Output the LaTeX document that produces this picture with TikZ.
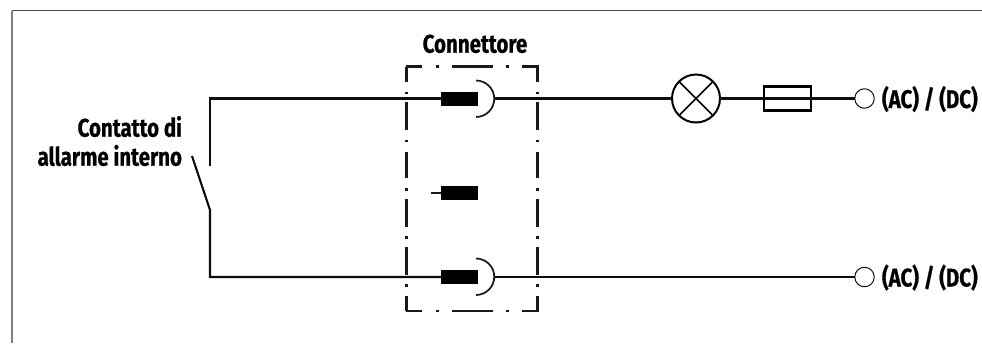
\documentclass[tikz,border=0pt]{standalone}
\usepackage{fontspec}
\newfontfamily\lab[FakeStretch=0.8,BoldFeatures={FakeStretch=0.8,FakeBold=0.6}]{Fira Sans}
\tikzset{
  wire/.style={line width=1.6pt,black!95},
  thinwire/.style={line width=1.3pt,black!90},
  bound/.style={line width=1.6pt,black!90},
  block/.style={fill=black,draw=none,minimum width=27.75pt,minimum height=10.5pt,inner sep=0pt,outer sep=0pt},
  lampn/.style={circle,draw,line width=1.5pt,minimum size=36pt,inner sep=0pt,outer sep=0pt},
  fusen/.style={rectangle,draw,line width=1.6pt,minimum width=35pt,minimum height=18pt,inner sep=0pt,outer sep=0pt},
  termn/.style={circle,draw,line width=.7pt,minimum size=14.6pt,inner sep=0pt,outer sep=0pt},
  txt/.style={font=\lab\bfseries\fontsize{19.2pt}{23pt}\selectfont,inner sep=0pt,outer sep=0pt,text=black}
}
\begin{document}
\begin{tikzpicture}[x=0.75pt,y=-0.75pt]
\useasboundingbox (0,0) rectangle (982,343);
% frame
\draw[line width=1.2pt,black!50] (12,343) -- (12,10.5);
\draw[line width=.8pt,black!70] (12,10.5) -- (982,10.5);
% nodes
\node[block] (b1) at (459.5,99) {};
\node[block] (b2) at (459.5,193) {};
\node[block] (b3) at (459.5,277) {};
\node[lampn] (lamp) at (696,98.5) {};
\node[fusen] (fuse) at (787.5,98.5) {};
\node[termn] (t1) at (864.5,98.5) {};
\node[termn] (t2) at (864.5,277) {};
\coordinate (tl) at (210,98.5);
\coordinate (swa) at (210,166);
\coordinate (swb) at (210,210);
\coordinate (swc) at (192,156);
\coordinate (bl) at (210,277);
\coordinate (a1) at (476,80.5);
\coordinate (a2) at (476,117);
\coordinate (a3) at (476,258.5);
\coordinate (a4) at (476,295);
\coordinate (stub) at (431,193);
% wires
\draw[wire,line join=miter] (swa) -- (tl) -- (b1.west |- tl);
\draw[wire,line join=miter] (swc) -- (swb) -- (bl) -- (b3.west);
\draw[thinwire] (stub) -- (b2.west);
\draw[thinwire] (a1) arc[start angle=-90,end angle=90,radius=18.25];
\draw[thinwire] (a3) arc[start angle=-90,end angle=90,radius=18.25];
\draw[wire] (494.5,98.5) -- (lamp.west);
\draw[wire] (lamp.east) -- (t1.west);
\draw[wire] (494.5,277) -- (t2.west);
\draw[line width=1.3pt] (lamp.45) -- (lamp.225) (lamp.135) -- (lamp.315);
% connector outline
\foreach \xx in {406.5,537.5}{
  \draw[bound] (\xx,66.5) -- (\xx,82);
  \draw[bound] (\xx,91.5) -- (\xx,94);
  \draw[bound] (\xx,102) -- (\xx,130);
  \draw[bound] (\xx,139.5) -- (\xx,142);
  \draw[bound] (\xx,152) -- (\xx,178);
  \draw[bound] (\xx,188) -- (\xx,190.5);
  \draw[bound] (\xx,199) -- (\xx,227);
  \draw[bound] (\xx,236) -- (\xx,238.5);
  \draw[bound] (\xx,247) -- (\xx,275);
  \draw[bound] (\xx,284) -- (\xx,286.5);
  \draw[bound] (\xx,296) -- (\xx,311);
}
\foreach \yy in {66.5,311}{
  \draw[bound] (405.5,\yy) -- (422,\yy);
  \draw[bound] (436,\yy) -- (439,\yy);
  \draw[bound] (452,\yy) -- (492.5,\yy);
  \draw[bound] (506,\yy) -- (509,\yy);
  \draw[bound] (522,\yy) -- (538.5,\yy);
}
% labels
\node[txt,anchor=base] (lc) at (475,52.7) {Connettore};
\node[txt,anchor=base east] (lk1) at (182,136.7) {Contatto di};
\node[txt,anchor=base east] (lk2) at (182,165.7) {allarme interno};
\node[txt,anchor=base west] (l1) at (882,108) {(AC) / (DC)};
\node[txt,anchor=base west] (l2) at (882,286.5) {(AC) / (DC)};
\end{tikzpicture}
\end{document}
